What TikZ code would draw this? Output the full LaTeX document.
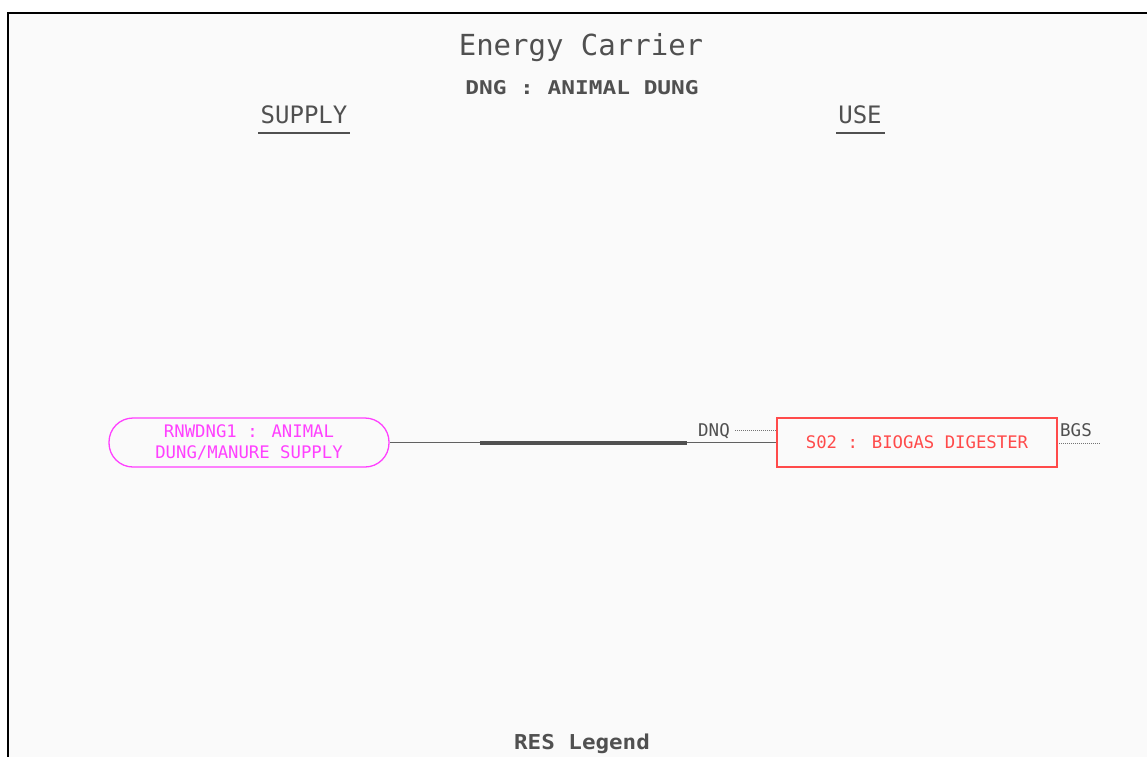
\documentclass[tikz,border=0pt]{standalone}
\usepackage{fontspec}
\newfontfamily\pix{DejaVu Sans Mono}
\definecolor{bg}{HTML}{FAFAFA}
\definecolor{txt}{HTML}{505050}
\definecolor{mag}{HTML}{FF40FF}
\definecolor{rd}{HTML}{FF4A4A}
\tikzset{
  lbl/.style={inner sep=0pt, text=txt, font=\pix\fontsize{17.5}{20}\selectfont},
  supplybox/.style={draw=mag, line width=1.3pt, rounded corners=24pt, minimum width=280pt, minimum height=49pt, inner sep=0pt, text=mag, align=center, font=\pix\fontsize{17.3}{20}\selectfont},
  procbox/.style={draw=rd, line width=1.3pt, minimum width=280pt, minimum height=49pt, inner sep=0pt, text=rd, font=\pix\fontsize{17.3}{20}\selectfont},
  thinline/.style={draw=txt!90, line width=1pt},
  thickline/.style={draw=txt, line width=4pt},
  dotline/.style={draw=txt!80, line width=0.9pt, dash pattern=on 1pt off 1pt},
  uline/.style={draw=txt, line width=1.5pt}
}
\begin{document}
\begin{tikzpicture}[x=1pt,y=-1pt]
\useasboundingbox (0,0) rectangle (1147,756);
\clip (0,0) rectangle (1147,756);
\fill[white] (0,0) rectangle (1147,756);
\draw[fill=bg, line width=2pt, draw=black] (8,13) rectangle (1170,780);
% titles
\node[lbl, font=\pix\fontsize{29}{32}\selectfont] (title) at (581,48) {Energy Carrier};
\node[lbl, font=\pix\bfseries\fontsize{19}{22}\selectfont, xscale=1.2, transform shape] (sub) at (582,88) {DNG : ANIMAL DUNG};
\node[lbl, font=\pix\fontsize{24}{26}\selectfont] (supply) at (304,115) {SUPPLY};
\node[lbl, font=\pix\fontsize{24}{26}\selectfont] (use) at (860,115) {USE};
\coordinate (u1a) at (258,133); \coordinate (u1b) at (350,133);
\coordinate (u2a) at (836,133); \coordinate (u2b) at (885,133);
\draw[uline] (u1a) -- (u1b);
\draw[uline] (u2a) -- (u2b);
% nodes
\node[supplybox] (sup) at (249,442.5) {RNWDNG1 : ANIMAL\\[1pt]DUNG/MANURE SUPPLY};
\node[procbox] (dig) at (917,442.5) {S02 : BIOGAS DIGESTER};
% connector
\coordinate (a1) at (480,442.5);
\coordinate (a2) at (687,442.5);
\draw[thinline] (sup.east) -- (a1);
\draw[thickline] (a1) -- (a2);
\draw[thinline] (a2) -- (dig.west);
% DNQ
\node[lbl] (dnq) at (714,431) {DNQ};
\coordinate (d1) at (735,430.5);
\coordinate (d2) at (777,430.5);
\draw[dotline] (d1) -- (d2);
% BGS
\node[lbl] (bgs) at (1076,430) {BGS};
\coordinate (b1) at (1059,443.5);
\coordinate (b2) at (1100,443.5);
\draw[dotline] (b1) -- (b2);
% legend
\node[lbl, font=\pix\bfseries\fontsize{20.5}{22}\selectfont, xscale=1.1, transform shape] (legend) at (582,744) {RES Legend};
\end{tikzpicture}
\end{document}
